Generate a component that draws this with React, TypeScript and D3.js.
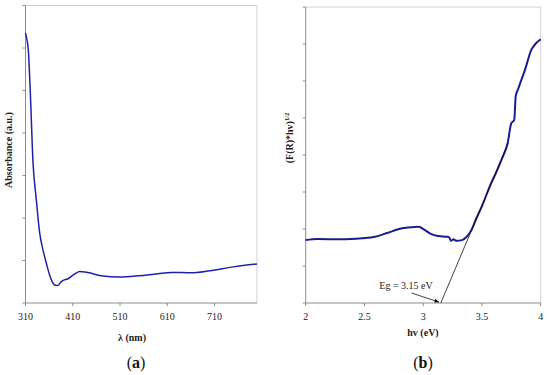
import React from 'react'
import * as d3 from 'd3'

// panel (a): absorbance spectrum
const wavelength = [310, 313, 316, 320, 326, 333, 340, 347, 354, 361, 368, 375, 380, 383, 388, 400, 415, 425, 435, 445, 470, 510, 550, 590, 620, 660, 700, 750, 800]
const absorbance = [6.35, 6.2, 5.95, 5.0, 3.29, 2.42, 1.65, 1.25, 0.94, 0.66, 0.47, 0.41, 0.42, 0.47, 0.52, 0.57, 0.69, 0.74, 0.73, 0.71, 0.64, 0.61, 0.64, 0.69, 0.72, 0.71, 0.76, 0.85, 0.92]
const xTicksA = [310, 410, 510, 610, 710]

// panel (b): Tauc plot
const energy = [2.0, 2.1, 2.3, 2.48, 2.59, 2.7, 2.82, 2.9, 2.96, 3.015, 3.07, 3.13, 3.2, 3.22, 3.237, 3.256, 3.285, 3.33, 3.37, 3.41, 3.45, 3.5, 3.58, 3.62, 3.67, 3.72, 3.75, 3.775, 3.787, 3.81, 3.866, 3.92, 3.96, 4.0]
const tauc = [1.7, 1.73, 1.72, 1.75, 1.79, 1.9, 2.02, 2.05, 2.06, 1.97, 1.86, 1.81, 1.79, 1.78, 1.68, 1.72, 1.68, 1.7, 1.79, 1.97, 2.27, 2.62, 3.25, 3.52, 3.9, 4.34, 4.86, 4.95, 5.58, 5.8, 6.3, 6.84, 7.02, 7.13]
const xTicksB = [2, 2.5, 3, 3.5, 4]
const fitE = [3.15, 3.724]
const fitV = [0, 4.32]

const serif = '"Liberation Serif", "Times New Roman", serif'
const axisColor = '#8c8c8c'
const frameColor = '#d0d0d0'

const App = () => {
  const xA = d3.scaleLinear().domain([310, 800]).range([25.5, 257])
  const yA = d3.scaleLinear().domain([0, 7]).range([303, 5.5])
  const xB = d3.scaleLinear().domain([2, 4]).range([305.7, 540.7])
  const yB = d3.scaleLinear().domain([0, 8]).range([303, 7])

  const lineA = d3.line<number>()
    .x((d, i) => xA(wavelength[i]))
    .y(d => yA(d))
    .curve(d3.curveMonotoneX)

  const lineB = d3.line<number>()
    .x((d, i) => xB(energy[i]))
    .y(d => yB(d))
    .curve(d3.curveMonotoneX)

  return (
    <svg width={550} height={375} style={{ position: 'absolute', left: 0, top: 0, background: '#fff' }}>
      {/* panel a */}
      <g>
        <line x1={xA(310)} x2={xA(800)} y1={yA(7)} y2={yA(7)} stroke={frameColor} />
        <line x1={xA(800)} x2={xA(800)} y1={yA(7)} y2={yA(0)} stroke={frameColor} />
        <line x1={xA(310)} x2={xA(310)} y1={yA(7)} y2={yA(0)} stroke={axisColor} />
        <line x1={xA(310)} x2={xA(800)} y1={yA(0)} y2={yA(0)} stroke={axisColor} />
        {d3.range(0, 8).map(t => (
          <line key={t} x1={xA(310) - 3} x2={xA(310)} y1={yA(t)} y2={yA(t)} stroke={axisColor} />
        ))}
        {xTicksA.map(t => (
          <g key={t}>
            <line x1={xA(t)} x2={xA(t)} y1={yA(0)} y2={yA(0) + 3} stroke={axisColor} />
            <text x={xA(t)} y={320} textAnchor="middle" fontFamily={serif} fontSize={10} fill="#222">{t}</text>
          </g>
        ))}
        <path d={lineA(absorbance) || ''} fill="none" stroke="#2121a8" strokeWidth={1.5} />
        <text x={132} y={341} textAnchor="middle" fontFamily={serif} fontSize={10} fontWeight="bold" fill="#222">λ (nm)</text>
        <text transform={`translate(12,150) rotate(-90)`} textAnchor="middle" fontFamily={serif} fontSize={10} fontWeight="bold" fill="#222">Absorbance (a.u.)</text>
        <text x={136} y={368} textAnchor="middle" fontFamily={serif} fontSize={16} fill="#111">(<tspan fontWeight="bold">a</tspan>)</text>
      </g>

      {/* panel b */}
      <g>
        <line x1={xB(2)} x2={xB(4)} y1={yB(8)} y2={yB(8)} stroke={frameColor} />
        <line x1={xB(4)} x2={xB(4)} y1={yB(8)} y2={yB(0)} stroke={frameColor} />
        <line x1={xB(2)} x2={xB(2)} y1={yB(8)} y2={yB(0)} stroke={axisColor} />
        <line x1={xB(2)} x2={xB(4)} y1={yB(0)} y2={yB(0)} stroke={axisColor} />
        {d3.range(0, 9).map(t => (
          <line key={t} x1={xB(2) - 3} x2={xB(2)} y1={yB(t)} y2={yB(t)} stroke={axisColor} />
        ))}
        {xTicksB.map(t => (
          <g key={t}>
            <line x1={xB(t)} x2={xB(t)} y1={yB(0)} y2={yB(0) + 3} stroke={axisColor} />
            <text x={xB(t)} y={320} textAnchor="middle" fontFamily={serif} fontSize={10} fill="#222">{t}</text>
          </g>
        ))}
        <path d={lineB(tauc) || ''} fill="none" stroke="#1c1c90" strokeWidth={2} />
        <line x1={xB(fitE[0])} y1={yB(fitV[0])} x2={xB(fitE[1])} y2={yB(fitV[1])} stroke="#111" strokeWidth={0.8} />
        <defs>
          <marker id="arr" viewBox="0 0 10 10" refX={9} refY={5} markerWidth={6} markerHeight={6} orient="auto">
            <path d="M0,1 L10,5 L0,9 Z" fill="#111" />
          </marker>
        </defs>
        <line x1={411.5} y1={293} x2={xB(fitE[0]) - 2} y2={yB(fitV[0]) - 1} stroke="#111" strokeWidth={0.8} markerEnd="url(#arr)" />
        <text x={406} y={289} textAnchor="middle" fontFamily={serif} fontSize={10} fill="#222">Eg = 3.15 eV</text>
        <text x={423} y={336} textAnchor="middle" fontFamily={serif} fontSize={10} fontWeight="bold" fill="#222">hv (eV)</text>
        <text transform={`translate(293,138) rotate(-90)`} textAnchor="middle" fontFamily={serif} fontSize={10} fontWeight="bold" fill="#222">
          (F(R)*hv)<tspan fontSize={6.5} dy={-4}>1/2</tspan>
        </text>
        <text x={423} y={368} textAnchor="middle" fontFamily={serif} fontSize={16} fill="#111">(<tspan fontWeight="bold">b</tspan>)</text>
      </g>
    </svg>
  )
}

export default App
